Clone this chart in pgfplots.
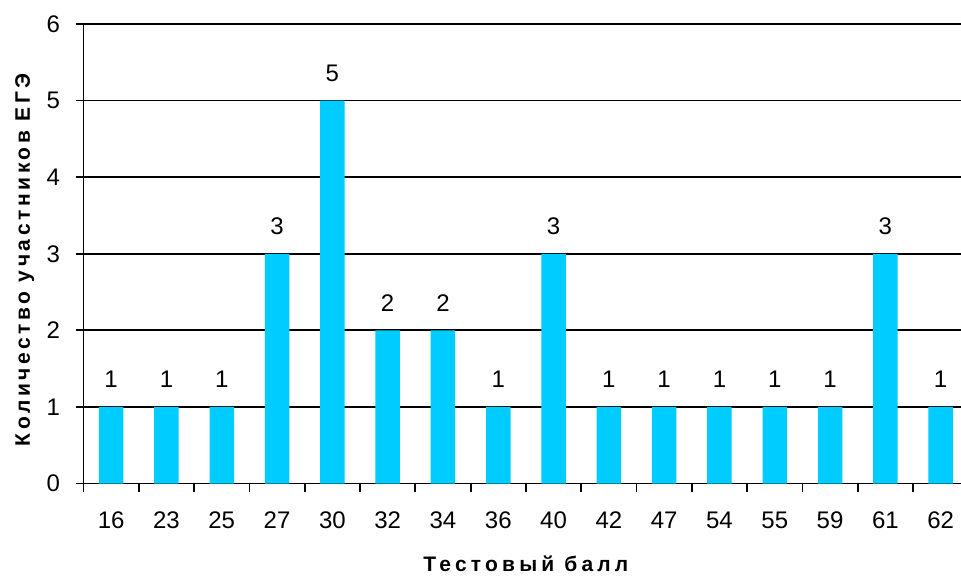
\documentclass[border=0pt]{standalone}
\usepackage{fontspec}
\setmainfont{Liberation Sans}
\usepackage{pgfplots}
\pgfplotsset{compat=1.18}
\definecolor{barcyan}{HTML}{00CCFF}
\begin{document}
\begin{tikzpicture}
\useasboundingbox (-83.5bp,-93.5bp) rectangle (877.5bp,483.5bp);
\begin{axis}[
  at={(0,0)}, anchor=south west,
  scale only axis,
  width=884.8bp, height=459.5bp,
  xmin=-0.5, xmax=15.5,
  ymin=0, ymax=6,
  axis x line*=bottom, axis y line*=left,
  axis line style={black, line width=1.8bp},
  xtick={-0.5,0.5,...,15.5},
  x tick label as interval,
  xticklabels={16,23,25,27,30,32,34,36,40,42,47,54,55,59,61,62},
  ytick={0,1,...,6},
  tick align=outside,
  major tick length=8bp,
  tick style={black, line width=1.8bp},
  ymajorgrids,
  major grid style={black, line width=1.8bp},
  ticklabel style={font=\fontsize{24bp}{28bp}\selectfont},
  yticklabel style={xshift=-12bp},
  xticklabel style={yshift=-17bp},
  /pgf/number format/assume math mode=true,
  xlabel={Тестовый балл},
  ylabel={Количество участников ЕГЭ},
  xlabel style={font=\fontsize{21bp}{25bp}\selectfont\bfseries\addfontfeature{LetterSpace=20}, at={(axis description cs:0.5,0)}, anchor=base, yshift=-88bp},
  ylabel style={font=\fontsize{21bp}{25bp}\selectfont\bfseries\addfontfeature{LetterSpace=17}, at={(axis description cs:0,0.5)}, anchor=base, xshift=-6bp, yshift=53.5bp},
  nodes near coords,
  every node near coord/.append style={font=\fontsize{24bp}{28bp}\selectfont, anchor=south, inner sep=0pt, yshift=19bp},
  clip=false,
]
\addplot[ybar, bar width=24.5bp, fill=barcyan, draw=none] coordinates {
 (0,1) (1,1) (2,1) (3,3) (4,5) (5,2) (6,2) (7,1) (8,3) (9,1) (10,1) (11,1) (12,1) (13,1) (14,3) (15,1)
};
\end{axis}
\end{tikzpicture}
\end{document}
